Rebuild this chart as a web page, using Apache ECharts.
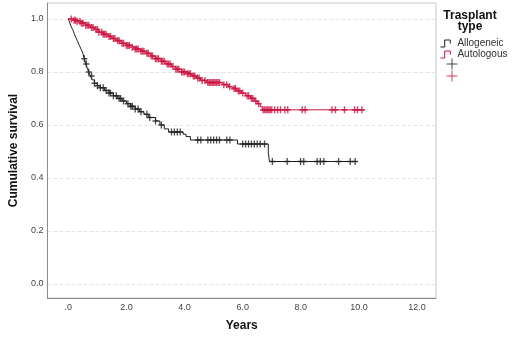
<!DOCTYPE html>
<html>
<head>
<meta charset="utf-8">
<script src="https://cdn.jsdelivr.net/npm/echarts@6/dist/echarts.min.js"></script>
<style>
  html, body { margin: 0; padding: 0; background: #fff; }
  #chart { width: 520px; height: 340px; }
</style>
</head>
<body>
<div id="chart"></div>
<script>
// Kaplan-Meier steps: [years, cumulative survival]
var alloSteps = [
  [0, 1.0], [0.05, 0.985], [0.1, 0.97], [0.15, 0.96], [0.2, 0.945], [0.26, 0.93],
  [0.32, 0.915], [0.38, 0.9], [0.44, 0.885], [0.5, 0.87], [0.55, 0.85], [0.6, 0.83],
  [0.65, 0.815], [0.7, 0.8], [0.76, 0.785], [0.82, 0.77], [0.9, 0.757], [1.0, 0.748],
  [1.1, 0.74], [1.25, 0.73], [1.4, 0.72], [1.55, 0.71], [1.7, 0.70], [1.85, 0.69],
  [2.0, 0.68], [2.15, 0.67], [2.3, 0.66], [2.45, 0.65], [2.6, 0.64], [2.75, 0.628],
  [3.0, 0.615], [3.15, 0.6], [3.3, 0.585], [3.45, 0.573], [3.95, 0.565], [4.05, 0.556],
  [4.2, 0.543], [5.82, 0.528], [6.88, 0.495], [6.92, 0.462], [9.9, 0.462]
];
var autoSteps = [
  [0, 1.0], [0.15, 0.995], [0.3, 0.99], [0.45, 0.984], [0.6, 0.976], [0.75, 0.968],
  [0.9, 0.96], [1.05, 0.95], [1.2, 0.942], [1.36, 0.934], [1.5, 0.926], [1.65, 0.918],
  [1.82, 0.908], [2.0, 0.9], [2.15, 0.893], [2.3, 0.886], [2.5, 0.878], [2.7, 0.87],
  [2.85, 0.86], [3.0, 0.85], [3.2, 0.84], [3.35, 0.83], [3.55, 0.82], [3.7, 0.81],
  [3.9, 0.8], [4.1, 0.793], [4.25, 0.785], [4.4, 0.777], [4.55, 0.768], [4.75, 0.76],
  [5.3, 0.752], [5.5, 0.744], [5.62, 0.737], [5.8, 0.728], [5.95, 0.72], [6.1, 0.71],
  [6.27, 0.7], [6.4, 0.69], [6.5, 0.68], [6.6, 0.67], [6.67, 0.657], [10.2, 0.657]
];
// censored times (years)
var alloCensor = [
  0.55, 0.62, 0.7, 0.8, 0.9, 1.0, 1.1, 1.2, 1.3, 1.4, 1.45, 1.55, 1.65, 1.75, 1.8,
  1.9, 2.05, 2.15, 2.2, 2.3, 2.4, 2.5, 2.7, 2.8, 3.0, 3.2, 3.55, 3.65, 3.75, 3.85,
  4.45, 4.56, 4.8, 4.9, 5.0, 5.1, 5.2, 5.45, 5.56, 6.0, 6.1, 6.2, 6.3, 6.4, 6.5,
  6.6, 6.75, 7.02, 7.53, 7.99, 8.1, 8.56, 8.67, 8.79, 9.3, 9.7, 9.87
];
var autoCensor = [
  0.1, 0.2, 0.25, 0.3, 0.4, 0.45, 0.5, 0.6, 0.65, 0.7, 0.8, 0.85, 0.95, 1.0, 1.05,
  1.15, 1.2, 1.25, 1.3, 1.4, 1.45, 1.55, 1.6, 1.7, 1.75, 1.85, 1.9, 2.0, 2.05, 2.1,
  2.2, 2.3, 2.35, 2.4, 2.5, 2.55, 2.6, 2.7, 2.75, 2.85, 2.9, 3.0, 3.05, 3.1, 3.2,
  3.25, 3.3, 3.4, 3.45, 3.5, 3.6, 3.7, 3.75, 3.8, 3.9, 3.95, 4.0, 4.1, 4.15, 4.2,
  4.3, 4.35, 4.45, 4.5, 4.6, 4.7, 4.8, 4.85, 4.9, 4.95, 5.0, 5.05, 5.1, 5.15, 5.2,
  5.35, 5.45, 5.55, 5.7, 5.75, 5.85, 5.9, 6.0, 6.15, 6.2, 6.3, 6.35, 6.45, 6.55,
  6.7, 6.75, 6.8, 6.85, 6.9, 6.95, 7.0, 7.1, 7.2, 7.3, 7.45, 7.55, 8.05, 8.15,
  9.07, 9.19, 9.5, 9.85, 9.95, 10.1
];
var yTicks = [0, 0.2, 0.4, 0.6, 0.8, 1.0];
var xTicks = [0, 2, 4, 6, 8, 10, 12];

// survival value of a KM curve at time t
function kmAt(steps, t) {
  var v = steps[0][1];
  steps.forEach(function(s) { if (s[0] <= t) v = s[1]; });
  return v;
}
function censorPoints(steps, times) {
  return times.map(function(t) { return [t, kmAt(steps, t)]; });
}

var black = '#1e1e1e';
var red = '#cc1240';
var stepIcon = 'path://M0,10L6,10L6,0L14,0L14,5';
var plusIcon = 'path://M0,5L10,5M5,0L5,10';
var font = 'Liberation Sans';

var myChart = echarts.init(document.getElementById('chart'));
var option = {
  backgroundColor: '#fff',
  animation: false,
  textStyle: { fontFamily: font },
  title: {
    text: 'Trasplant\ntype',
    left: 465,
    top: 5,
    textAlign: 'center',
    textStyle: { fontSize: 12, fontWeight: 'bold', color: '#111', lineHeight: 11, fontFamily: font }
  },
  legend: [{
    orient: 'vertical',
    left: 435,
    top: 33,
    itemWidth: 14,
    itemHeight: 7,
    itemGap: 0,
    textStyle: { fontSize: 10, color: '#333', lineHeight: 11, fontFamily: font },
    data: [
      { name: 'Allogeneic', icon: stepIcon, itemStyle: { color: 'transparent', borderColor: black, borderWidth: 1 } },
      { name: 'Autologous', icon: stepIcon, itemStyle: { color: 'transparent', borderColor: red, borderWidth: 1 } }
    ]
  }, {
    orient: 'vertical',
    left: 441,
    top: 53,
    itemWidth: 12,
    itemHeight: 11,
    itemGap: 0,
    formatter: function() { return ''; },
    data: [
      { name: 'Allogeneic censored', icon: plusIcon, itemStyle: { color: 'transparent', borderColor: black, borderWidth: 1 } },
      { name: 'Autologous censored', icon: plusIcon, itemStyle: { color: 'transparent', borderColor: red, borderWidth: 1 } }
    ]
  }],
  grid: {
    left: 46,
    right: 84,
    top: 3,
    bottom: 42,
    show: true,
    borderColor: '#c8c8c8',
    borderWidth: 1
  },
  xAxis: {
    type: 'value',
    min: -0.72,
    max: 12.65,
    name: 'Years',
    nameLocation: 'middle',
    nameGap: 22,
    nameTextStyle: { fontSize: 12, fontWeight: 'bold', color: '#111', fontFamily: font },
    axisLine: { onZero: false, lineStyle: { color: '#8c8c8c' } },
    axisTick: { show: false, customValues: xTicks },
    splitLine: { show: false },
    axisLabel: {
      customValues: xTicks,
      margin: 5,
      fontSize: 9,
      color: '#444',
      formatter: function(v) { return v === 0 ? '.0' : v.toFixed(1); }
    }
  },
  yAxis: {
    type: 'value',
    min: -0.053,
    max: 1.06,
    name: 'Cumulative survival',
    nameLocation: 'middle',
    nameGap: 23,
    nameTextStyle: { fontSize: 12, fontWeight: 'bold', color: '#111', fontFamily: font },
    axisLine: { show: true, onZero: false, lineStyle: { color: '#8c8c8c' } },
    axisTick: { show: false, customValues: yTicks },
    splitLine: { show: true, lineStyle: { color: '#e4e4e4', type: 'dashed' } },
    axisLabel: {
      customValues: yTicks,
      margin: 4,
      fontSize: 9,
      color: '#444',
      formatter: function(v) { return v.toFixed(1); }
    }
  },
  series: [{
    name: 'Allogeneic',
    type: 'line',
    step: 'end',
    data: alloSteps,
    color: black,
    showSymbol: false,
    lineStyle: { color: black, width: 1 }
  }, {
    name: 'Autologous',
    type: 'line',
    step: 'end',
    data: autoSteps,
    color: red,
    showSymbol: false,
    lineStyle: { color: red, width: 1 }
  }, {
    name: 'Allogeneic censored',
    type: 'scatter',
    data: censorPoints(alloSteps, alloCensor),
    symbol: plusIcon,
    symbolSize: [6, 7],
    itemStyle: { color: 'transparent', borderColor: black, borderWidth: 1.4 },
    z: 3
  }, {
    name: 'Autologous censored',
    type: 'scatter',
    data: censorPoints(autoSteps, autoCensor),
    symbol: plusIcon,
    symbolSize: [6, 7],
    itemStyle: { color: 'transparent', borderColor: red, borderWidth: 1.5 },
    z: 3
  }]
};
myChart.setOption(option);
</script>
</body>
</html>
